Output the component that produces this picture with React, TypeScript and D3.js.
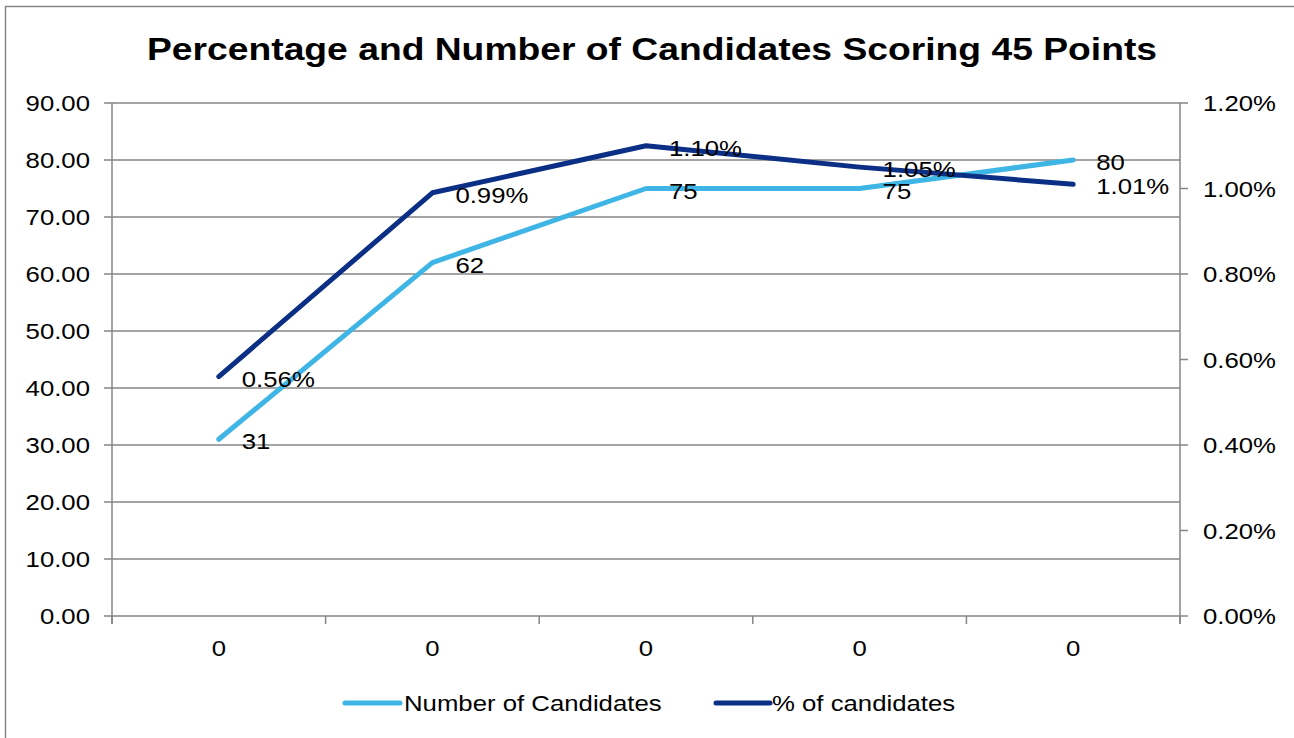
import React from "react";
import * as d3 from "d3";

const categories: string[] = ["0", "0", "0", "0", "0"];
const numberOfCandidates: number[] = [31, 62, 75, 75, 80];
const pctOfCandidates: number[] = [0.56, 0.99, 1.1, 1.05, 1.01];
const leftTicks: number[] = [0, 10, 20, 30, 40, 50, 60, 70, 80, 90];
const rightTicks: number[] = [0, 0.2, 0.4, 0.6, 0.8, 1.0, 1.2];
const seriesNames: string[] = ["Number of Candidates", "% of candidates"];
const title = "Percentage and Number of Candidates Scoring 45 Points";

const W = 1294;
const H = 738;
const plot = { left: 112, right: 1180, top: 103, bottom: 616 };
const LIGHT = "#3FB5E5";
const DARK = "#0B2F85";
const GRID = "#868686";
const FONT = "'Liberation Sans', Arial, sans-serif";
const FS = 23;
const SX = 1.12;

function T(props: { x: number; y: number; anchor?: string; children: React.ReactNode; size?: number }) {
  const { x, y, anchor = "start", children, size = FS } = props;
  return (
    <text
      transform={`translate(${x},${y}) scale(${SX},1)`}
      textAnchor={anchor}
      dominantBaseline="central"
      fontFamily={FONT}
      fontSize={size}
      fill="#000"
    >
      {children}
    </text>
  );
}

export default function App() {
  const x = d3
    .scaleBand<number>()
    .domain(categories.map((_, i) => i))
    .range([plot.left, plot.right]);
  const yL = d3.scaleLinear().domain([0, 90]).range([plot.bottom, plot.top]);
  const yR = d3.scaleLinear().domain([0, 1.2]).range([plot.bottom, plot.top]);
  const cx = (i: number) => (x(i) as number) + x.bandwidth() / 2;

  const lineL = d3
    .line<number>()
    .x((_, i) => cx(i))
    .y((d) => yL(d));
  const lineR = d3
    .line<number>()
    .x((_, i) => cx(i))
    .y((d) => yR(d));

  const boundaries = categories.map((_, i) => x(i) as number).concat([plot.right]);

  return (
    <svg width={W} height={H} style={{ position: "absolute", left: 0, top: 0, background: "#fff" }}>
      <rect x={0} y={0} width={W} height={H} fill="#fff" />
      <rect x={5.5} y={6.5} width={W + 10} height={H + 10} fill="none" stroke={GRID} strokeWidth={1.5} />
      <text
        x={652}
        y={60}
        textAnchor="middle"
        fontFamily={FONT}
        fontWeight="bold"
        fontSize={32}
        textLength={1010}
        lengthAdjust="spacingAndGlyphs"
        fill="#000"
      >
        {title}
      </text>

      {/* gridlines */}
      {leftTicks.map((t) => (
        <line key={"g" + t} x1={plot.left - 8} x2={plot.right} y1={yL(t)} y2={yL(t)} stroke={GRID} strokeWidth={1.5} />
      ))}
      {/* left axis */}
      <line x1={plot.left} x2={plot.left} y1={plot.top} y2={plot.bottom + 8} stroke={GRID} strokeWidth={1.5} />
      {leftTicks.map((t) => (
        <T key={"lt" + t} x={90} y={yL(t)} anchor="end">
          {t.toFixed(2)}
        </T>
      ))}
      {/* right axis */}
      <line x1={plot.right} x2={plot.right} y1={plot.top} y2={plot.bottom + 8} stroke={GRID} strokeWidth={1.5} />
      {rightTicks.map((t) => (
        <g key={"rt" + t}>
          <line x1={plot.right} x2={plot.right + 8} y1={yR(t)} y2={yR(t)} stroke={GRID} strokeWidth={1.5} />
          <T x={1203} y={yR(t)}>
            {t.toFixed(2) + "%"}
          </T>
        </g>
      ))}
      {/* bottom ticks */}
      {boundaries.map((b, i) => (
        <line key={"bt" + i} x1={b} x2={b} y1={plot.bottom} y2={plot.bottom + 8} stroke={GRID} strokeWidth={1.5} />
      ))}
      {categories.map((c, i) => (
        <T key={"c" + i} x={cx(i)} y={648} anchor="middle">
          {c}
        </T>
      ))}

      {/* series */}
      <path d={lineL(numberOfCandidates) || ""} fill="none" stroke={LIGHT} strokeWidth={5} strokeLinecap="round" strokeLinejoin="round" />
      <path d={lineR(pctOfCandidates) || ""} fill="none" stroke={DARK} strokeWidth={5} strokeLinecap="round" strokeLinejoin="round" />

      {/* data labels */}
      {numberOfCandidates.map((v, i) => (
        <T key={"nl" + i} x={cx(i) + 23} y={yL(v) + 2}>
          {String(v)}
        </T>
      ))}
      {pctOfCandidates.map((v, i) => (
        <T key={"pl" + i} x={cx(i) + 23} y={yR(v) + 2}>
          {v.toFixed(2) + "%"}
        </T>
      ))}

      {/* legend */}
      <line x1={345} x2={400} y1={703} y2={703} stroke={LIGHT} strokeWidth={5} strokeLinecap="round" />
      <T x={404} y={703}>
        {seriesNames[0]}
      </T>
      <line x1={716} x2={770} y1={703} y2={703} stroke={DARK} strokeWidth={5} strokeLinecap="round" />
      <T x={772} y={703}>
        {seriesNames[1]}
      </T>
    </svg>
  );
}
